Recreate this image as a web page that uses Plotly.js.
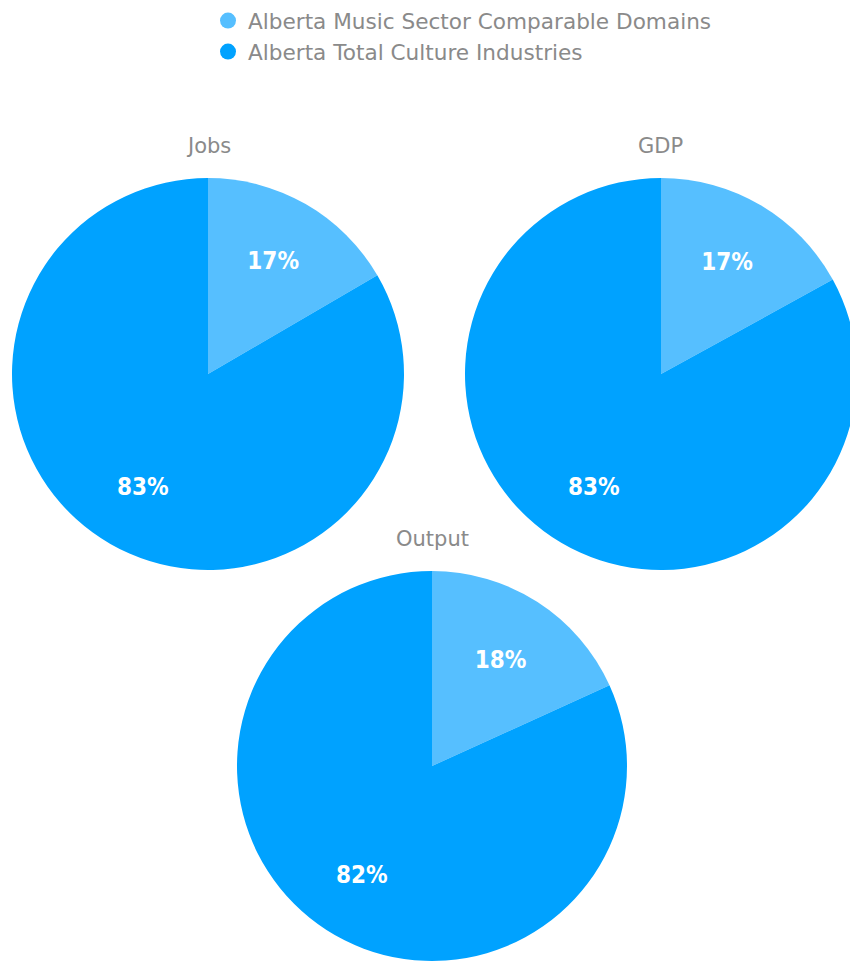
<!DOCTYPE html>
<html>
<head>
<meta charset="utf-8">
<script src="https://cdn.plot.ly/plotly-3.0.1.min.js"></script>
<style>
html,body{margin:0;padding:0;overflow:hidden;background:#fff;}
#chart{width:870px;height:961px;}
</style>
</head>
<body>
<div id="chart"></div>
<script>
// Data
const categories = ["Alberta Music Sector Comparable Domains", "Alberta Total Culture Industries"];
const panels = ["Jobs", "GDP", "Output"];
const jobsValues = [16.6, 83.4];
const gdpValues = [17.0, 83.0];
const outputValues = [18.2, 81.8];
const colors = ["#56BFFF", "#00A2FF"];

const W = 870, H = 961;
function dx(a, b) { return [a / W, b / W]; }
function dy(top, bottom) { return [1 - bottom / H, 1 - top / H]; }

const font = "'DejaVu Sans', Verdana, sans-serif";
const labelFont = { color: "#ffffff", size: 24, family: "'Liberation Sans Narrow', 'DejaVu Sans Condensed', sans-serif", weight: "bold" };

// pie geometry (pixel boxes), centres and radii derive from these
const boxes = [
  { x0: 12, x1: 404, y0: 178, y1: 570 },
  { x0: 465, x1: 857, y0: 178, y1: 570 },
  { x0: 237, x1: 627, y0: 571, y1: 961 }
];
const allValues = [jobsValues, gdpValues, outputValues];

function pie(values, b) {
  return {
    type: "pie",
    labels: categories,
    values: values,
    sort: false,
    direction: "clockwise",
    rotation: 0,
    marker: { colors: colors, line: { width: 0 } },
    texttemplate: ["%{percent:.0%}", ""],
    textposition: "inside",
    insidetextorientation: "horizontal",
    insidetextfont: labelFont,
    showlegend: false,
    hoverinfo: "label+percent",
    domain: { x: dx(b.x0, b.x1), y: dy(b.y0, b.y1) }
  };
}

const traces = allValues.map((v, i) => pie(v, boxes[i]));

// legend entries with circle symbols
categories.forEach((c, i) => {
  traces.push({
    type: "scatter",
    mode: "markers",
    x: [null], y: [null],
    name: c,
    marker: { color: colors[i], size: 18, symbol: "circle" },
    showlegend: true,
    hoverinfo: "skip"
  });
});

const titlePos = [[208, 146], [660, 146], [432, 539]];
const annotations = panels.map((p, i) => ({
  text: p,
  x: titlePos[i][0] / W,
  y: 1 - titlePos[i][1] / H,
  xref: "paper", yref: "paper",
  xanchor: "center", yanchor: "middle",
  showarrow: false,
  font: { size: 21, color: "#8a8a8a", family: font }
}));

// labels for the large slices, placed at the slice mid-angle (derived from values)
allValues.forEach((v, i) => {
  const b = boxes[i];
  const cx = (b.x0 + b.x1) / 2, cy = (b.y0 + b.y1) / 2, r = (b.x1 - b.x0) / 2;
  const total = v[0] + v[1];
  const mid = 2 * Math.PI * (v[0] + v[1] / 2) / total;
  const rc = 0.667 * r;
  const px = cx + rc * Math.sin(mid), py = cy - rc * Math.cos(mid);
  annotations.push({
    text: Math.round(100 * v[1] / total) + "%",
    x: px / W, y: 1 - py / H,
    xref: "paper", yref: "paper",
    xanchor: "center", yanchor: "middle",
    showarrow: false,
    font: labelFont
  });
});

const layout = {
  width: W,
  height: H,
  margin: { l: 0, r: 0, t: 0, b: 0 },
  paper_bgcolor: "#ffffff",
  plot_bgcolor: "#ffffff",
  showlegend: true,
  legend: {
    x: 208 / W, y: 1 - 0 / H,
    xanchor: "left", yanchor: "top",
    orientation: "v",
    font: { size: 21.6, color: "#8a8a8a", family: font },
    itemwidth: 30,
    tracegroupgap: 0
  },
  xaxis: { visible: false, domain: [0, 0.01] },
  yaxis: { visible: false, domain: [0, 0.01] },
  annotations: annotations
};

Plotly.newPlot("chart", traces, layout, { displayModeBar: false, staticPlot: true });
</script>
</body>
</html>
